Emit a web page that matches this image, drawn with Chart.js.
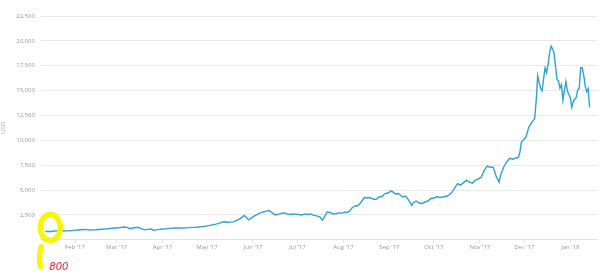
<!DOCTYPE html>
<html>
<head>
<meta charset="utf-8">
<script src="https://cdn.jsdelivr.net/npm/chart.js@4/dist/chart.umd.min.js"></script>
<style>
  html, body { margin: 0; padding: 0; background: #fff; }
  #wrap { width: 600px; height: 278px; position: relative; }
</style>
</head>
<body>
<div id="wrap"><canvas id="priceChart"></canvas></div>
<script>
// day index counted from 1 Jan 2017 (0), price in USD
const days = [
  11, 13, 15, 17, 19, 21, 23, 25, 27, 29, 31, 33, 35, 37, 39, 41, 43, 45, 47, 49, 51, 53, 55, 57, 59,
  60, 62, 64, 66, 68, 70, 72, 74, 76, 78, 80, 82, 84, 86, 88, 90, 92, 94, 96, 98, 100, 102, 104, 106, 108, 110, 112, 114, 116, 118, 120,
  122, 124, 126, 128, 130, 132, 134, 136, 138, 140, 142, 144, 145, 146, 148, 150,
  152, 154, 156, 158, 160, 162, 164, 166, 168, 170, 172, 174, 176, 178, 180,
  182, 184, 186, 188, 190, 192, 194, 196, 198, 199, 201, 203, 205, 207, 209, 211, 213,
  214, 216, 218, 220, 222, 224, 226, 228, 230, 232, 234, 236, 238, 240, 242, 244,
  245, 247, 249, 252, 254, 256, 258, 259, 261, 263, 265, 267, 269, 271, 273, 275, 277, 279,
  282, 284, 285, 287, 289, 291, 293, 295, 297, 299, 301, 303, 305,
  307, 309, 311, 313, 315, 317, 318, 320, 322, 324, 326, 328, 330, 331, 332, 333,
  335, 337, 339, 341, 342, 343, 344, 345, 346, 347, 348, 349, 350, 351, 352, 353, 354, 355, 356, 357, 358, 359,
  360, 361, 362, 363, 364, 365, 366, 367, 368, 369, 370, 371, 372, 373, 374, 375, 376, 377, 378
]
const prices = [
  830, 830, 840, 890, 900, 910, 920, 900, 910, 930, 970, 990, 1010, 1030, 1020, 990, 1000, 1010, 1040, 1060, 1070, 1110, 1150, 1180, 1190,
  1200, 1250, 1280, 1250, 1120, 1180, 1230, 1250, 1100, 1000, 1050, 1100, 960, 1000, 1050, 1080, 1100, 1130, 1170, 1190, 1200, 1190, 1180, 1200, 1220, 1250, 1260, 1280, 1320, 1340, 1400,
  1450, 1520, 1580, 1650, 1780, 1820, 1760, 1780, 1800, 1950, 2100, 2300, 2450, 2350, 2000, 2200,
  2400, 2550, 2700, 2800, 2880, 2950, 2700, 2500, 2550, 2650, 2700, 2600, 2550, 2600, 2580,
  2550, 2500, 2600, 2550, 2600, 2450, 2400, 2300, 1980, 2250, 2800, 2750, 2600, 2620, 2700, 2680, 2800,
  2750, 2850, 3250, 3400, 3450, 3800, 4250, 4200, 4250, 4100, 4050, 4300, 4350, 4650, 4700, 4900,
  4860, 4600, 4650, 4300, 4400, 4000, 3440, 3700, 3900, 3700, 3650, 3800, 3900, 4150, 4200, 4350, 4250, 4300,
  4400, 4600, 4750, 5200, 5650, 5500, 5750, 6000, 5800, 5700, 6000, 6100, 6300,
  7000, 7400, 7300, 7300, 6400, 5800, 6500, 7300, 7800, 8200, 8100, 8200, 8300, 8800, 9800, 10000,
  10300, 11300, 11800, 12200, 14000, 16500, 15800, 15200, 15000, 16200, 17300, 16800, 17600, 18800, 19460, 19200, 18800, 17500, 16100, 16000, 15250, 15600,
  14050, 15000, 15900, 15000, 14600, 14300, 13300, 13900, 14150, 14300, 15100, 15200, 17300, 17300, 16600, 15500, 14900, 15200, 13300
]

// month ticks on the x axis
const monthDays = [31, 59, 90, 120, 151, 181, 212, 243, 273, 304, 334, 365]
const monthLabels = ["Feb '17", "Mar '17", "Apr '17", "May '17", "Jun '17", "Jul '17",
  "Aug '17", "Sep '17", "Oct '17", "Nov '17", "Dec '17", "Jan '18"]

const yTicks = [0, 2500, 5000, 7500, 10000, 12500, 15000, 17500, 20000, 22500]

const startNote = '800'

// hand-drawn marker round the first point
const scribble = {
  id: 'scribble',
  afterDatasetsDraw(chart) {
    const ctx = chart.ctx
    const px = chart.scales.x.getPixelForValue(days[0])
    const py = chart.scales.y.getPixelForValue(prices[0])
    ctx.save()
    ctx.strokeStyle = 'rgba(248, 244, 0, 0.95)'
    ctx.lineWidth = 5.5
    ctx.lineCap = 'round'
    ctx.beginPath()
    ctx.ellipse(px + 5, py - 4, 10, 13, 0, 0, Math.PI * 2)
    ctx.stroke()
    ctx.beginPath()
    ctx.moveTo(px - 4, py + 15)
    ctx.quadraticCurveTo(px - 7, py + 25, px - 5, py + 35)
    ctx.stroke()
    ctx.fillStyle = '#e8202a'
    ctx.font = 'italic 10px "DejaVu Sans"'
    ctx.textBaseline = 'top'
    ctx.fillText(startNote, px + 4, py + 31)
    ctx.restore()
  }
}

const ctx = document.getElementById('priceChart').getContext('2d')
// eslint-disable-next-line no-undef
new Chart(ctx, {
  type: 'line',
  data: {
    datasets: [{
      label: 'USD',
      data: days.map((d, i) => ({ x: d, y: prices[i] })),
      borderColor: '#2ea3d5',
      borderWidth: 1.4,
      pointRadius: 0,
      tension: 0,
      fill: false
    }]
  },
  options: {
    responsive: true,
    maintainAspectRatio: false,
    animation: false,
    layout: { padding: { top: 16, right: 3, bottom: 26, left: 0 } },
    plugins: { legend: { display: false }, tooltip: { enabled: false } },
    scales: {
      x: {
        type: 'linear',
        min: 8,
        max: 383,
        afterBuildTicks: (axis) => { axis.ticks = monthDays.map(v => ({ value: v })) },
        ticks: {
          autoSkip: false,
          maxRotation: 0,
          color: '#999',
          font: { family: 'Open Sans', size: 6 },
          padding: 1,
          callback: (v) => monthLabels[monthDays.indexOf(v)]
        },
        grid: { display: true, drawOnChartArea: false, drawTicks: true, tickLength: 3, color: '#dde3ea' },
        border: { display: true, color: '#dde3ea' }
      },
      y: {
        min: 0,
        max: 22500,
        afterBuildTicks: (axis) => { axis.ticks = yTicks.map(v => ({ value: v })) },
        ticks: {
          color: '#999',
          font: { family: 'Open Sans', size: 6 },
          padding: 6,
          callback: (v) => v === 0 ? '' : v.toLocaleString('en-US')
        },
        grid: { color: '#e8e8e8', drawTicks: false },
        border: { display: false },
        title: {
          display: true,
          text: 'USD',
          color: '#aaa',
          font: { family: 'Open Sans', size: 6 },
          padding: { top: 0, bottom: 3 }
        }
      }
    }
  },
  plugins: [scribble]
})
</script>
</body>
</html>
